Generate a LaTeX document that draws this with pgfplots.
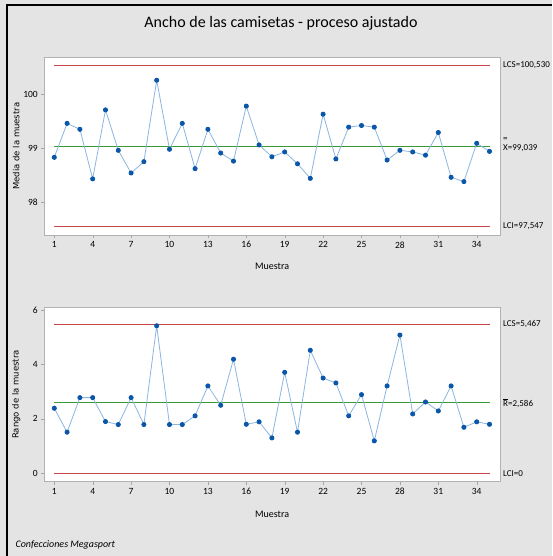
\documentclass[border=0pt]{standalone}
\usepackage{fontspec}
\setmainfont{Carlito}
\newfontfamily\dejavu{DejaVu Sans}
\usepackage{pgfplots}
\pgfplotsset{compat=1.18}
\definecolor{bgray}{HTML}{E4E4E4}
\definecolor{ptblue}{HTML}{0A56A8}
\definecolor{lnblue}{HTML}{8CB6E0}
\definecolor{clgreen}{HTML}{3A9A3A}
\definecolor{limred}{HTML}{C8484A}
\tikzset{rl/.style={anchor=west, xshift=2pt, font=\fontsize{9}{10}\selectfont, align=left, inner sep=1pt}}
\pgfplotsset{
  spc/.style={
    scale only axis,
    anchor=south west,
    width=455.7pt,
    xmin=0.22, xmax=35.82,
    xtick={1,4,...,34},
    axis background/.style={fill=white},
    axis line style={gray!60},
    tick style={gray!70},
    tick align=outside,
    major tick length=3pt,
    xtick pos=bottom, ytick pos=left,
    clip=false,
    /pgf/number format/assume math mode=true,
    tick label style={font=\fontsize{9.5}{10}\selectfont},
    xlabel={Muestra},
    xlabel style={font=\fontsize{10}{12}\selectfont, at={(axis description cs:0.5,0)}, anchor=center},
    ylabel style={font=\dejavu\fontsize{8.5}{10}\selectfont, at={(axis description cs:-0.0614,0.5)}, anchor=center},
  },
  mydat/.style={color=lnblue, line width=0.8pt, mark=*, mark size=2.1pt, mark options={draw=ptblue, fill=ptblue}},
  mylim/.style={color=limred, line width=1.3pt},
  mycen/.style={color=clgreen, line width=1.1pt},
}
\begin{document}
\begin{tikzpicture}[x=1pt,y=1pt]
\useasboundingbox (0,0) rectangle (552,556);
\fill[bgray] (0,0) rectangle (552,556);
\draw[black, line width=2pt] (7,0) -- (7,551.3) -- (552,551.3);
\node[font=\fontsize{16}{18}\selectfont] at (281,533) {Ancho de las camisetas - proceso ajustado};
\node[anchor=west, font=\itshape\fontsize{10}{12}\selectfont] at (12,11) {Confecciones Megasport};

\begin{axis}[spc, at={(44.3pt,321pt)}, height=177.7pt,
  ymin=97.39, ymax=100.685, ytick={98,99,100},
  ylabel={Media de la muestra},
  xlabel style={yshift=-31pt}]
\addplot[mylim] coordinates {(1,100.53) (35,100.53)};
\addplot[mylim] coordinates {(1,97.547) (35,97.547)};
\addplot[mycen] coordinates {(1,99.039) (35,99.039)};
\addplot[mydat] coordinates {
(1,98.83) (2,99.46) (3,99.35) (4,98.43) (5,99.71) (6,98.96) (7,98.54)
(8,98.75) (9,100.26) (10,98.98) (11,99.46) (12,98.62) (13,99.35) (14,98.91)
(15,98.76) (16,99.78) (17,99.06) (18,98.84) (19,98.93) (20,98.71) (21,98.44)
(22,99.63) (23,98.80) (24,99.39) (25,99.42) (26,99.39) (27,98.78) (28,98.96)
(29,98.93) (30,98.87) (31,99.29) (32,98.46) (33,98.38) (34,99.09) (35,98.94)};
\node[rl] at (axis cs:35.82,100.53) {LCS=100,530};
\node[rl, yshift=1pt] at (axis cs:35.82,99.039) {=\\[-1pt]X=99,039};
\node[rl] at (axis cs:35.82,97.547) {LCI=97,547};
\end{axis}

\begin{axis}[spc, at={(44.3pt,74.3pt)}, height=174.4pt,
  ymin=-0.31, ymax=6.10, ytick={0,2,4,6},
  ylabel={Rango de la muestra},
  xlabel style={yshift=-33pt}]
\addplot[mylim] coordinates {(1,5.467) (35,5.467)};
\addplot[mylim] coordinates {(1,0) (35,0)};
\addplot[mycen] coordinates {(1,2.586) (35,2.586)};
\addplot[mydat] coordinates {
(1,2.39) (2,1.51) (3,2.78) (4,2.78) (5,1.90) (6,1.79) (7,2.78)
(8,1.79) (9,5.42) (10,1.79) (11,1.79) (12,2.11) (13,3.21) (14,2.50)
(15,4.19) (16,1.80) (17,1.89) (18,1.30) (19,3.71) (20,1.51) (21,4.52)
(22,3.50) (23,3.32) (24,2.11) (25,2.89) (26,1.19) (27,3.21) (28,5.08)
(29,2.18) (30,2.62) (31,2.29) (32,3.21) (33,1.69) (34,1.89) (35,1.80)};
\node[rl] at (axis cs:35.82,5.467) {LCS=5,467};
\node[rl] at (axis cs:35.82,2.586) {$\overline{\mbox{R}}$=2,586};
\node[rl] at (axis cs:35.82,0) {LCI=0};
\end{axis}
\end{tikzpicture}
\end{document}
